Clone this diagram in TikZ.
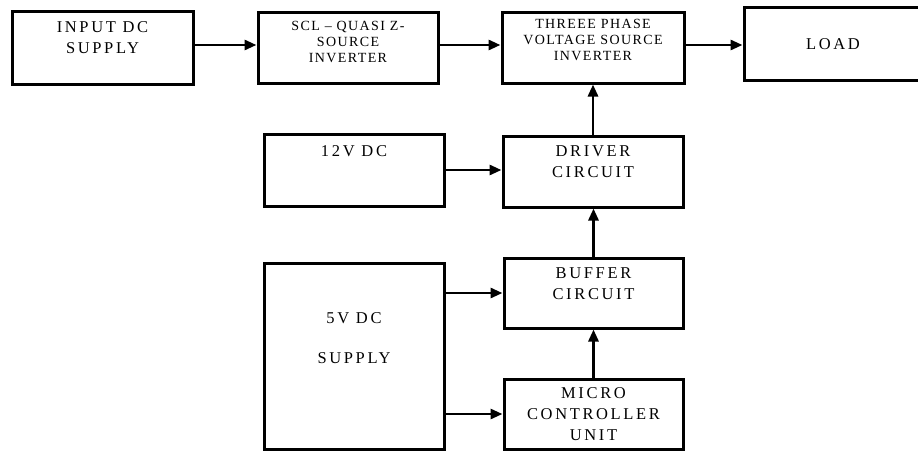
\documentclass[tikz,border=0pt]{standalone}
\usepackage{fontspec}
\setmainfont{Liberation Serif}
\newfontfamily\blockfont[LetterSpace=16]{Liberation Serif}
\newfontfamily\narrowfont[LetterSpace=10]{Liberation Serif}
\usepackage{tikz}
\usetikzlibrary{arrows.meta}
\usetikzlibrary{positioning}

\newcommand{\bigtext}{\blockfont\fontsize{16.5}{21}\selectfont}
\newcommand{\smalltext}{\narrowfont\fontsize{14}{16}\selectfont}

\tikzset{
  blk/.style={draw=black,line width=3pt,inner sep=0pt},
  lbl/.style={font=\bigtext,align=center,inner sep=0pt,anchor=north},
  lblsm/.style={font=\smalltext,align=center,inner sep=0pt,anchor=north},
  arr/.style={line width=2.8pt,-{Triangle[length=12pt,width=10pt]}}
}

\begin{document}
\begin{tikzpicture}[x=1pt,y=-1pt]
\useasboundingbox (0,0) rectangle (918,452);
% power path
\node[blk,minimum width=181pt,minimum height=72pt,label={[lbl,yshift=-10.5pt]north:{INPUT DC\\SUPPLY}}] (inp) at (102.5,48) {};
\node[blk,minimum width=180pt,minimum height=71pt,label={[lblsm,yshift=-10pt]north:{SCL – QUASI Z-\\SOURCE\\INVERTER}}] (scl) at (348,48) {};
\node[blk,minimum width=182pt,minimum height=70pt,label={[lblsm,yshift=-7.5pt]north:{THREEE PHASE\\VOLTAGE SOURCE\\INVERTER}}] (vsi) at (593,48) {};
\node[blk,minimum width=178pt,minimum height=72pt,font=\bigtext] (load) at (833,44) {LOAD};
% control path
\node[blk,minimum width=180pt,minimum height=72pt,label={[lbl,yshift=-12.5pt]north:{12V DC}}] (v12) at (354,170) {};
\node[blk,minimum width=180pt,minimum height=71pt,label={[lbl,yshift=-10.5pt]north:{DRIVER\\CIRCUIT}}] (drv) at (593,171.5) {};
\node[blk,minimum width=180pt,minimum height=186pt,label={[lbl,yshift=-50.5pt]north:{5V DC\\[19pt]SUPPLY}}] (v5) at (354,356) {};
\node[blk,minimum width=179pt,minimum height=70pt,label={[lbl,yshift=-10.5pt]north:{BUFFER\\CIRCUIT}}] (buf) at (593.5,293) {};
\node[blk,minimum width=179pt,minimum height=70pt,label={[lbl,yshift=-9.5pt]north:{MICRO\\CONTROLLER\\UNIT}}] (mcu) at (593.5,414) {};

\draw[arr] ([yshift=3pt]inp.east) -- ([yshift=3pt]scl.west);
\draw[arr] ([yshift=3pt]scl.east) -- ([yshift=3pt]vsi.west);
\draw[arr] ([yshift=3pt]vsi.east) -- ([yshift=-1pt]load.west);
\draw[arr] (v12.east) -- (v12.east -| drv.west);
\draw[arr] (drv.north) -- (vsi.south);
\draw[arr] (buf.north) -- (buf.north |- drv.south);
\draw[arr] (mcu.north) -- (buf.south);
\draw[arr] (v5.east |- buf.west) -- (buf.west);
\draw[arr] (v5.east |- mcu.west) -- (mcu.west);
\end{tikzpicture}
\end{document}
